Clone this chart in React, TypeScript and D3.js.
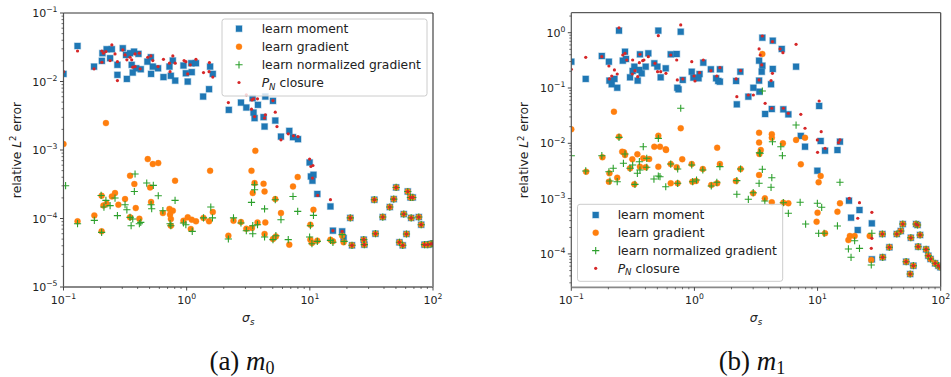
import React from 'react';
import * as d3 from 'd3';

type P = [number, number];

// ---------- (a) m0 ----------
const m0Moment: P[] = [[0.1,1.29e-2],[0.13,3.30e-2],[0.177,1.65e-2],[0.205,2.0e-2],[0.207,2.59e-2],[0.224,2.96e-2],[0.239,2.19e-2],[0.247,2.96e-2],[0.274,1.75e-2],[0.274,1.25e-2],[0.303,3.06e-2],[0.322,2.44e-2],[0.327,1.09e-2],[0.347,2.59e-2],[0.358,1.75e-2],[0.365,1.35e-2],[0.374,2.73e-2],[0.389,1.56e-2],[0.406,2.53e-2],[0.424,1.51e-2],[0.48,1.95e-2],[0.512,2.26e-2],[0.514,1.29e-2],[0.531,1.65e-2],[0.586,1.56e-2],[0.648,1.16e-2],[0.725,1.65e-2],[0.744,1.21e-2],[0.772,2.02e-2],[0.807,1.03e-2],[0.942,1.71e-2],[0.985,1.32e-2],[1.02,9.97e-3],[1.09,1.85e-2],[1.10,1.37e-2],[1.19,1.85e-2],[1.36,6.03e-3],[1.52,7.73e-3],[1.55,1.65e-2],[1.63,1.29e-2],[2.20,3.85e-3],[2.76,4.92e-3],[3.05,4.17e-3],[3.43,5.71e-3],[3.49,3.52e-3],[3.79,4.56e-3],[3.56,2.92e-3],[4.21,3.02e-3],[4.29,2.20e-3],[4.35,6.03e-3],[5.02,5.21e-3],[5.24,2.69e-3],[5.83,1.57e-3],[6.81,1.90e-3],[7.30,1.54e-3],[8.02,1.44e-3],[9.96,6.57e-4],[10.2,4.11e-4],[10.7,4.35e-4],[10.5,3.56e-4],[11.5,2.28e-4],[14.7,1.50e-4],[15.4,6.64e-5],[18.3,6.49e-5],[18.8,5.20e-5]];
const m0Gradient: P[] = [[0.1,1.22e-3],[0.221,2.47e-3],[0.483,7.36e-4],[0.531,6.23e-4],[0.588,6.44e-4],[0.347,4.21e-4],[0.376,3.18e-4],[1.55,4.97e-4],[0.505,2.84e-4],[0.805,3.56e-4],[0.204,2.15e-4],[0.262,2.35e-4],[0.316,1.92e-4],[0.224,1.64e-4],[0.247,2.10e-4],[0.279,1.59e-4],[0.386,1.42e-4],[0.514,1.74e-4],[1.63,1.24e-4],[0.211,1.55e-4],[0.178,1.11e-4],[0.725,1.38e-4],[0.772,1.30e-4],[0.641,1.20e-4],[0.13,9.08e-5],[0.347,1.04e-4],[0.413,9.93e-5],[0.733,1.14e-4],[0.744,9.84e-5],[1.02,1.04e-4],[0.942,9.29e-5],[1.10,9.61e-5],[1.19,9.08e-5],[1.37,1.02e-4],[1.52,9.08e-5],[0.744,7.85e-5],[1.08,7.03e-5],[0.204,6.49e-5],[3.61,9.73e-4],[3.36,4.97e-4],[3.56,3.29e-4],[4.21,3.21e-4],[3.44,2.35e-4],[4.29,2.48e-4],[7.97,4.03e-4],[7.30,2.94e-4],[5.24,1.92e-4],[5.83,1.20e-4],[10.7,1.34e-4],[2.40,9.29e-5],[2.76,8.89e-5],[3.76,8.77e-5],[4.35,8.77e-5],[10.1,8.12e-5],[3.05,7.10e-5],[3.39,7.27e-5],[4.29,5.94e-5],[2.18,5.61e-5],[5.02,5.02e-5],[5.30,5.48e-5],[10.1,4.91e-5],[11.5,4.75e-5],[14.7,4.91e-5],[15.4,4.64e-5],[6.81,4.15e-5],[10.4,4.40e-5],[18.3,5.61e-5],[18.8,4.49e-5]];
const m0NormGrad: P[] = [[0.104,3.01e-4],[0.381,4.46e-4],[0.474,3.29e-4],[0.536,3.04e-4],[0.376,2.48e-4],[0.588,2.15e-4],[0.202,2.17e-4],[0.262,1.99e-4],[0.221,1.84e-4],[0.239,1.54e-4],[0.316,1.59e-4],[0.805,1.84e-4],[1.57,1.47e-4],[0.514,1.59e-4],[0.52,1.39e-4],[0.641,1.30e-4],[0.213,1.47e-4],[0.327,1.34e-4],[0.274,1.10e-4],[0.178,9.38e-5],[0.347,1.04e-4],[0.365,9.84e-5],[0.424,8.77e-5],[0.354,7.85e-5],[0.413,8.40e-5],[0.13,8.40e-5],[0.733,8.40e-5],[0.744,7.85e-5],[0.942,8.60e-5],[0.985,8.12e-5],[1.11,6.49e-5],[1.37,1.02e-4],[1.62,1.02e-4],[0.204,6.27e-5],[3.56,3.11e-4],[3.56,2.63e-4],[3.36,1.72e-4],[4.29,1.38e-4],[5.24,1.88e-4],[7.30,2.10e-4],[7.97,1.27e-4],[5.83,9.61e-5],[10.7,1.11e-4],[2.40,1.02e-4],[2.76,8.60e-5],[3.44,7.85e-5],[3.76,8.12e-5],[3.05,6.64e-5],[3.44,6.00e-5],[4.29,5.37e-5],[10.1,7.85e-5],[2.18,5.02e-5],[5.02,4.91e-5],[5.30,5.61e-5],[6.68,4.91e-5],[9.96,5.37e-5],[10.4,4.29e-5],[11.5,4.64e-5],[14.7,4.80e-5],[15.4,4.49e-5],[18.3,5.81e-5],[19.0,4.64e-5]];
const m0Closure: P[] = [[0.1,1.39e-2],[0.13,2.79e-2],[0.177,1.53e-2],[0.205,2.79e-2],[0.205,1.91e-2],[0.211,2.59e-2],[0.221,2.73e-2],[0.239,2.02e-2],[0.247,3.42e-2],[0.262,2.53e-2],[0.274,1.95e-2],[0.274,1.03e-2],[0.303,2.89e-2],[0.316,2.44e-2],[0.327,2.07e-2],[0.347,2.26e-2],[0.358,2.07e-2],[0.365,1.62e-2],[0.381,1.65e-2],[0.381,2.53e-2],[0.413,2.59e-2],[0.419,1.53e-2],[0.483,2.26e-2],[0.512,2.36e-2],[0.531,2.02e-2],[0.586,1.65e-2],[0.648,2.11e-2],[0.725,1.85e-2],[0.733,1.39e-2],[0.772,2.36e-2],[0.807,1.85e-2],[0.953,2.02e-2],[0.985,1.95e-2],[1.02,1.29e-2],[1.07,1.75e-2],[1.19,2.11e-2],[1.37,1.35e-2],[1.52,1.39e-2],[1.53,1.89e-2],[1.63,1.16e-2],[2.18,4.92e-3],[3.05,6.38e-3],[3.39,5.39e-3],[3.49,5.58e-3],[3.76,5.58e-3],[3.36,3.94e-3],[3.56,3.08e-3],[4.35,3.26e-3],[4.29,2.92e-3],[5.02,5.27e-3],[5.24,3.57e-3],[5.41,2.20e-3],[5.83,1.41e-3],[6.68,1.72e-3],[7.37,1.61e-3],[8.02,1.57e-3],[9.96,7.36e-4],[10.6,5.94e-4],[10.2,5.74e-4],[10.5,3.89e-4],[11.6,2.17e-4],[14.7,1.88e-4],[15.4,6.64e-5],[18.3,6.49e-5]];
// points where all four methods coincide
const m0Common: P[] = [[21.3,1.02e-4],[22.0,4.06e-5],[27.4,4.91e-5],[27.7,4.15e-5],[33.4,1.88e-4],[34.1,6.00e-5],[39.1,1.05e-4],[44.6,1.47e-4],[48.0,1.92e-4],[50.2,2.84e-4],[53.4,4.49e-5],[56.8,4.06e-5],[57.9,1.16e-4],[60.9,5.94e-5],[62.4,2.48e-4],[65.6,2.03e-4],[68.5,2.03e-4],[66.5,1.02e-4],[76.7,1.05e-4],[80.2,8.12e-5],[85.3,4.15e-5],[90.8,4.15e-5],[96.7,4.25e-5],[100,4.3e-5]];

// ---------- (b) m1 ----------
const m1Moment: P[] = [[0.1,0.299],[0.131,0.146],[0.177,0.379],[0.202,0.299],[0.204,0.136],[0.213,0.117],[0.224,0.146],[0.236,0.101],[0.244,1.09],[0.262,0.312],[0.273,0.453],[0.278,0.335],[0.300,0.156],[0.315,0.203],[0.325,0.243],[0.346,0.136],[0.357,0.212],[0.361,0.407],[0.373,0.184],[0.402,0.243],[0.422,0.424],[0.472,0.280],[0.500,0.243],[0.509,1.09],[0.532,0.156],[0.585,0.227],[0.642,0.407],[0.718,0.412],[0.726,0.101],[0.743,0.0947],[0.774,1.04],[0.804,0.140],[0.951,0.197],[0.980,0.154],[1.08,0.150],[1.10,0.179],[1.18,0.287],[1.36,0.218],[1.50,0.150],[1.56,0.134],[1.61,0.218],[1.61,0.130],[2.21,0.0507],[2.18,0.134],[2.36,0.197],[2.74,0.0697],[3.01,0.101],[3.35,0.136],[3.37,0.0857],[3.35,0.312],[3.52,0.197],[3.56,0.253],[3.56,0.812],[4.19,0.117],[4.33,0.221],[4.33,0.717],[5.12,0.508],[3.75,0.0339],[4.25,0.0417],[5.27,0.0412],[5.79,0.0334],[6.69,0.243],[7.31,0.0136],[7.91,8.68e-3],[10.3,0.0473],[10.6,0.0110],[11.5,7.35e-3],[14.5,7.56e-3],[15.2,0.0107],[9.96,3.19e-3],[18.0,9.16e-4],[18.7,4.52e-4],[21.9,6.22e-4],[21.2,2.70e-4],[27.6,3.57e-4],[27.6,7.98e-5]];
const m1Gradient: P[] = [[0.1,0.0179],[0.222,0.0373],[0.774,0.0187],[0.509,0.0137],[0.472,8.68e-3],[0.525,8.68e-3],[0.585,7.79e-3],[0.268,6.88e-3],[0.344,6.33e-3],[0.244,0.0132],[1.53,8.32e-3],[0.796,5.14e-3],[0.384,5.36e-3],[0.313,5.14e-3],[0.259,7.05e-3],[0.179,5.58e-3],[0.273,6.14e-3],[0.429,5.20e-3],[0.588,7.56e-3],[0.132,3.06e-3],[0.204,2.87e-3],[0.202,2.02e-3],[0.236,2.39e-3],[0.300,3.53e-3],[0.361,3.78e-3],[0.402,3.68e-3],[0.509,3.78e-3],[0.642,4.22e-3],[0.718,3.68e-3],[0.325,1.81e-3],[0.731,1.89e-3],[0.951,4.22e-3],[1.17,3.43e-3],[1.61,4.22e-3],[0.961,2.02e-3],[1.03,2.08e-3],[1.37,1.76e-3],[1.53,1.89e-3],[0.642,1.89e-3],[3.56,0.412],[3.35,0.0155],[3.35,0.0103],[4.25,0.0146],[4.25,0.0126],[5.23,0.0100],[6.69,0.0115],[7.91,0.0126],[3.46,7.56e-3],[3.37,6.41e-3],[2.17,2.08e-3],[2.37,3.43e-3],[3.00,1.25e-3],[3.35,2.67e-3],[3.73,1.01e-3],[4.25,8.57e-4],[5.27,8.43e-4],[5.79,8.22e-4],[7.31,4.17e-3],[10.6,2.56e-3],[10.2,1.97e-3],[10.0,5.56e-4],[9.82,3.82e-4],[11.5,2.36e-4],[14.5,5.79e-4],[15.2,8.22e-4],[17.8,1.78e-4],[18.3,2.11e-4],[20.0,2.11e-4],[26.5,2.11e-4],[27.3,7.76e-5]];
const m1NormGrad: P[] = [[0.774,0.0430],[0.244,0.0128],[0.509,0.0123],[0.384,8.68e-3],[0.177,5.97e-3],[0.1,5.97e-3],[0.273,6.41e-3],[0.410,5.36e-3],[3.56,0.0883],[6.69,0.0214],[4.30,0.0107],[5.03,8.68e-3],[5.18,5.97e-3],[3.37,6.76e-3],[0.131,3.16e-3],[0.202,3.06e-3],[0.206,2.08e-3],[0.219,3.53e-3],[0.236,2.02e-3],[0.265,4.35e-3],[0.300,3.53e-3],[0.315,4.05e-3],[0.357,4.65e-3],[0.329,1.81e-3],[0.344,2.87e-3],[0.361,3.29e-3],[0.410,3.68e-3],[0.469,2.26e-3],[0.509,2.56e-3],[0.525,2.49e-3],[0.585,1.64e-3],[0.642,4.22e-3],[0.731,3.43e-3],[0.731,1.89e-3],[0.951,4.05e-3],[1.17,3.29e-3],[0.968,2.02e-3],[1.04,2.17e-3],[1.37,1.69e-3],[1.52,1.97e-3],[1.61,3.78e-3],[2.21,2.11e-3],[2.21,1.20e-3],[2.37,3.43e-3],[2.74,9.71e-4],[3.00,1.28e-3],[3.35,1.89e-3],[3.56,3.39e-3],[4.25,2.39e-3],[4.19,1.60e-3],[3.73,9.06e-4],[3.42,6.59e-3],[5.27,8.43e-4],[5.79,5.42e-4],[7.22,8.57e-4],[8.00,3.47e-4],[9.96,8.22e-4],[10.8,6.97e-4],[10.2,2.36e-4],[11.3,2.36e-4],[14.5,3.20e-4],[15.2,1.97e-3],[17.8,1.23e-4],[18.7,8.69e-5],[20.0,1.73e-4],[21.9,1.26e-4],[27.3,6.30e-5],[27.6,2.36e-4]];
const m1Closure: P[] = [[0.1,0.218],[0.131,0.359],[0.177,0.368],[0.202,0.250],[0.204,0.146],[0.213,0.165],[0.224,0.212],[0.236,0.179],[0.244,1.23],[0.262,0.395],[0.273,0.424],[0.282,0.321],[0.315,0.321],[0.313,0.179],[0.329,0.206],[0.346,0.160],[0.357,0.287],[0.361,0.407],[0.380,0.312],[0.389,0.321],[0.422,0.368],[0.478,0.280],[0.509,0.883],[0.502,0.197],[0.532,0.197],[0.587,0.184],[0.642,0.395],[0.718,0.321],[0.726,0.140],[0.774,1.38],[0.804,0.146],[0.951,0.299],[0.993,0.165],[1.01,0.134],[1.10,0.189],[1.18,0.321],[1.36,0.206],[1.52,0.165],[1.61,0.233],[2.18,0.146],[2.21,0.0697],[2.37,0.206],[2.74,0.0747],[3.01,0.0747],[3.35,0.508],[3.42,0.395],[3.52,0.261],[3.35,0.140],[4.19,0.136],[4.30,0.184],[4.30,0.687],[3.56,0.871],[4.96,0.508],[5.23,0.435],[6.69,0.617],[3.75,0.0529],[4.25,0.0430],[5.27,0.0430],[5.79,0.0349],[7.31,0.0334],[7.91,0.0187],[10.3,0.0582],[10.7,0.0162],[9.96,0.0115],[10.0,6.88e-3],[11.5,8.12e-3],[14.8,0.0103],[15.2,0.0115],[18.1,1.01e-3],[21.9,8.43e-4],[21.2,4.41e-4],[27.6,5.65e-4],[27.3,1.26e-4],[27.6,1.91e-4]];
const m1Common: P[] = [[33.6,2.29e-4],[33.8,8.69e-5],[38.3,1.32e-4],[44.0,2.29e-4],[47.4,2.59e-4],[49.2,3.47e-4],[52.4,7.23e-5],[57.2,1.96e-4],[60.0,6.12e-5],[56.5,4.33e-5],[63.1,3.47e-4],[64.9,3.33e-4],[68.0,2.20e-4],[65.6,1.35e-4],[76.1,1.21e-4],[79.3,9.27e-5],[82.7,8.09e-5],[90.1,6.76e-5],[95.6,6.12e-5],[99.5,5.73e-5]];

const xTicks = [0.1, 1, 10, 100];
const xTickExps = ['−1', '0', '1', '2'];
const m0YTicks = [1e-5, 1e-4, 1e-3, 1e-2, 1e-1];
const m0YTickExps = ['−5', '−4', '−3', '−2', '−1'];
const m1YTicks = [1e-4, 1e-3, 1e-2, 1e-1, 1];
const m1YTickExps = ['−4', '−3', '−2', '−1', '0'];
const legendLabels = ['learn moment', 'learn gradient', 'learn normalized gradient', 'closure'];

const BLUE = '#1f77b4';
const ORANGE = '#ff7f0e';
const GREEN = '#2ca02c';
const RED = '#d62728';
const FONT = 'DejaVu Sans, sans-serif';

type PanelProps = {
  id: string;
  left: number; right: number; top: number; bottom: number;
  yDomain: [number, number];
  yTicks: number[]; yTickExps: string[];
  moment: P[]; gradient: P[]; norm: P[]; closure: P[];
  legend: { x: number; y: number; w: number; h: number; rows: number[]; mx: number; tx: number };
  caption: string; sub: string; captionX: number;
};

const Square = ({ cx, cy }: { cx: number; cy: number }) => (
  <rect x={cx - 3} y={cy - 3} width={6} height={6} fill={BLUE} stroke={BLUE} strokeOpacity={0.35} strokeWidth={1.2} />
);
const Dot = ({ cx, cy }: { cx: number; cy: number }) => (
  <circle cx={cx} cy={cy} r={3} fill={ORANGE} stroke={ORANGE} strokeOpacity={0.35} strokeWidth={1} />
);
const Plus = ({ cx, cy }: { cx: number; cy: number }) => (
  <path d={`M${cx - 3.6},${cy}h7.2M${cx},${cy - 3.6}v7.2`} stroke={GREEN} strokeWidth={1.1} fill="none" />
);
const Small = ({ cx, cy }: { cx: number; cy: number }) => (
  <circle cx={cx} cy={cy} r={1.6} fill={RED} />
);

function minorTicks(domain: [number, number]): number[] {
  const out: number[] = [];
  const lo = Math.floor(Math.log10(domain[0]));
  const hi = Math.ceil(Math.log10(domain[1]));
  for (let k = lo; k <= hi; k++) {
    for (let m = 2; m <= 9; m++) {
      const v = m * Math.pow(10, k);
      if (v >= domain[0] && v <= domain[1]) out.push(v);
    }
  }
  return out;
}

const Panel = (p: PanelProps) => {
  const x = d3.scaleLog().domain([0.1, 100]).range([p.left, p.right]);
  const y = d3.scaleLog().domain(p.yDomain).range([p.bottom, p.top]);
  const xMinor = minorTicks([0.1, 100]);
  const yMinor = minorTicks(p.yDomain);
  const cx = (p.left + p.right) / 2;
  const lg = p.legend;
  return (
    <g>
      <defs>
        <clipPath id={p.id}>
          <rect x={p.left} y={p.top} width={p.right - p.left} height={p.bottom - p.top} />
        </clipPath>
      </defs>
      <rect x={p.left} y={p.top} width={p.right - p.left} height={p.bottom - p.top} fill="#fff" />
      <g clipPath={`url(#${p.id})`}>
        {p.moment.map((d, i) => <Square key={'m' + i} cx={x(d[0])} cy={y(d[1])} />)}
        {p.gradient.map((d, i) => <Dot key={'g' + i} cx={x(d[0])} cy={y(d[1])} />)}
        {p.norm.map((d, i) => <Plus key={'n' + i} cx={x(d[0])} cy={y(d[1])} />)}
        {p.closure.map((d, i) => <Small key={'c' + i} cx={x(d[0])} cy={y(d[1])} />)}
      </g>
      {/* spines */}
      <line x1={p.left} x2={p.right} y1={p.top} y2={p.top} stroke="#333" strokeWidth={1} />
      <line x1={p.right} x2={p.right} y1={p.top} y2={p.bottom} stroke="#444" strokeWidth={1.2} />
      <line x1={p.left} x2={p.left} y1={p.top} y2={p.bottom} stroke="#555" strokeWidth={1.2} />
      <line x1={p.left} x2={p.right} y1={p.bottom} y2={p.bottom} stroke="#888" strokeWidth={1.8} />
      {/* x ticks */}
      {xMinor.map((v, i) => (
        <line key={'xm' + i} x1={x(v)} x2={x(v)} y1={p.bottom} y2={p.bottom + 2} stroke="#333" strokeWidth={0.7} />
      ))}
      {xTicks.map((v, i) => (
        <g key={'xt' + i}>
          <line x1={x(v)} x2={x(v)} y1={p.bottom} y2={p.bottom + 3.5} stroke="#333" strokeWidth={0.9} />
          <text x={x(v)} y={p.bottom + 16.5} textAnchor="middle" fontFamily={FONT} fontSize={11} fill="#222">
            10<tspan fontSize={7.7} dy={-4.6}>{xTickExps[i]}</tspan>
          </text>
        </g>
      ))}
      {/* y ticks */}
      {yMinor.map((v, i) => (
        <line key={'ym' + i} x1={p.left - 2} x2={p.left} y1={y(v)} y2={y(v)} stroke="#333" strokeWidth={0.7} />
      ))}
      {p.yTicks.map((v, i) => (
        <g key={'yt' + i}>
          <line x1={p.left - 3.5} x2={p.left} y1={y(v)} y2={y(v)} stroke="#333" strokeWidth={0.9} />
          <text x={p.left - 6} y={y(v) + 4} textAnchor="end" fontFamily={FONT} fontSize={11} fill="#222">
            10<tspan fontSize={7.7} dy={-4.6}>{p.yTickExps[i]}</tspan>
          </text>
        </g>
      ))}
      {/* axis labels */}
      <text x={cx} y={p.bottom + 35} textAnchor="middle" fontFamily={FONT} fontSize={12.3} fill="#222">
        <tspan fontStyle="italic">σ</tspan>
        <tspan fontStyle="italic" fontSize={8.6} dy={2.5}>s</tspan>
      </text>
      <text transform={`translate(${p.left - 43},${(p.top + p.bottom) / 2}) rotate(-90)`} textAnchor="middle" fontFamily={FONT} fontSize={12.3} fill="#222">
        relative <tspan fontStyle="italic">L</tspan>
        <tspan fontSize={8.6} dy={-4.8}>2</tspan>
        <tspan dy={4.8}> error</tspan>
      </text>
      {/* legend */}
      <rect x={lg.x} y={lg.y} width={lg.w} height={lg.h} rx={2.5} fill="#fff" fillOpacity={0.8} stroke="#cccccc" strokeWidth={1} />
      <Square cx={lg.mx} cy={lg.rows[0]} />
      <Dot cx={lg.mx} cy={lg.rows[1]} />
      <Plus cx={lg.mx} cy={lg.rows[2]} />
      <Small cx={lg.mx} cy={lg.rows[3]} />
      {legendLabels.slice(0, 3).map((t, i) => (
        <text key={'lt' + i} x={lg.tx} y={lg.rows[i] + 4.4} fontFamily={FONT} fontSize={12.3} fill="#222">{t}</text>
      ))}
      <text x={lg.tx} y={lg.rows[3] + 4.4} fontFamily={FONT} fontSize={12.3} fill="#222">
        <tspan fontStyle="italic">P</tspan>
        <tspan fontStyle="italic" fontSize={8.6} dy={2.6}>N</tspan>
        <tspan dy={-2.6}> {legendLabels[3]}</tspan>
      </text>
      {/* caption */}
      <text x={p.captionX} y={370} textAnchor="middle" fontFamily="Liberation Serif, DejaVu Serif, serif" fontSize={27} fill="#111">
        {p.caption} <tspan fontStyle="italic">m</tspan>
        <tspan fontSize={18} dy={4}>{p.sub}</tspan>
      </text>
    </g>
  );
};

export default function App() {
  return (
    <svg width={951} height={377} viewBox="0 0 951 377" style={{ position: 'absolute', left: 0, top: 0, display: 'block', background: '#fff' }}>
      <rect width={951} height={377} fill="#fff" />
      <Panel
        id="clipA"
        left={63.5} right={433} top={13} bottom={287}
        yDomain={[1e-5, 1e-1]} yTicks={m0YTicks} yTickExps={m0YTickExps}
        moment={[...m0Moment, ...m0Common]}
        gradient={[...m0Gradient, ...m0Common]}
        norm={[...m0NormGrad, ...m0Common]}
        closure={[...m0Closure, ...m0Common]}
        legend={{ x: 222, y: 19, w: 205, h: 77, rows: [28.7, 46.7, 64.8, 82.5], mx: 239, tx: 261.7 }}
        caption="(a)" sub="0" captionX={242}
      />
      <Panel
        id="clipB"
        left={571.3} right={940.7} top={12.7} bottom={287.3}
        yDomain={[2.49e-5, 2.3]} yTicks={m1YTicks} yTickExps={m1YTickExps}
        moment={[...m1Moment, ...m1Common]}
        gradient={[...m1Gradient, ...m1Common]}
        norm={[...m1NormGrad, ...m1Common]}
        closure={[...m1Closure, ...m1Common]}
        legend={{ x: 577.5, y: 204.3, w: 205.2, h: 77, rows: [215, 232.7, 250.6, 268.3], mx: 595.7, tx: 617.7 }}
        caption="(b)" sub="1" captionX={752}
      />
    </svg>
  );
}
